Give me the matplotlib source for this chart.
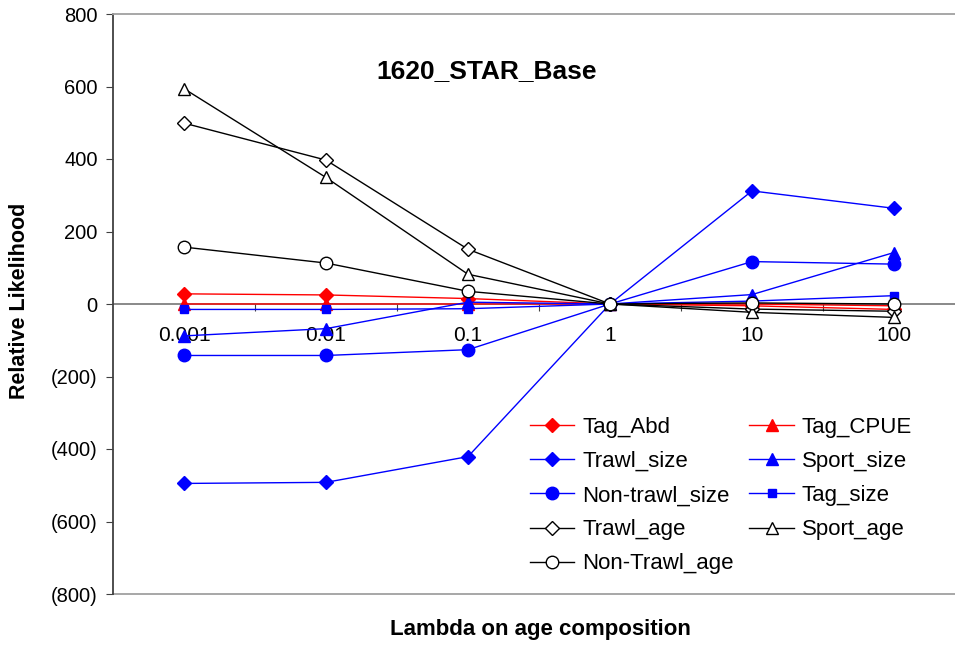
import numpy as np
import matplotlib.pyplot as plt
from matplotlib.ticker import FuncFormatter

plt.rcParams['font.family'] = ['Liberation Sans', 'DejaVu Sans']

lambdas = ['0.001', '0.01', '0.1', '1', '10', '100']

tag_abd = [28, 25, 15, 0, -5, -15]
tag_cpue = [0, 0, 0, 0, 0, -5]
trawl_size = [-495, -492, -421, 0, 312, 264]
sport_size = [-88, -68, 5, 0, 26, 142]
non_trawl_size = [-142, -142, -126, 0, 117, 110]
tag_size = [-15, -15, -13, 0, 8, 23]
trawl_age = [499, 397, 151, 0, -14, -20]
sport_age = [594, 349, 82, 0, -23, -37]
non_trawl_age = [157, 113, 35, 0, 3, 0]


def paren_fmt(v, pos):
    if v < 0:
        return f"({abs(v):.0f})"
    return f"{v:.0f}"


def main():
    fig = plt.figure(figsize=(9.55, 6.45), dpi=100)
    ax = fig.add_axes([113 / 955, 51 / 645, 852 / 955, 580 / 645])
    x = np.arange(len(lambdas))

    ax.axhline(0, color='#808080', lw=1.3, zorder=1)
    ax.axhline(-800, color='#a0a0a0', lw=1.3, zorder=1, clip_on=False)

    red = '#ff0000'
    blue = '#0000ff'
    ax.plot(x, tag_abd, color=red, lw=1, marker='D', ms=7, label='Tag_Abd')
    ax.plot(x, tag_cpue, color=red, lw=1, marker='^', ms=8, label='Tag_CPUE')
    ax.plot(x, trawl_size, color=blue, lw=1, marker='D', ms=7, label='Trawl_size')
    ax.plot(x, sport_size, color=blue, lw=1, marker='^', ms=8, label='Sport_size')
    ax.plot(x, non_trawl_size, color=blue, lw=1, marker='o', ms=9, label='Non-trawl_size')
    ax.plot(x, tag_size, color=blue, lw=1, marker='s', ms=6, label='Tag_size')
    ax.plot(x, trawl_age, color='black', lw=1, marker='D', ms=7, mfc='white', label='Trawl_age')
    ax.plot(x, sport_age, color='black', lw=1, marker='^', ms=9, mfc='white', label='Sport_age')
    ax.plot(x, non_trawl_age, color='black', lw=1, marker='o', ms=9, mfc='white', label='Non-Trawl_age')

    ax.set_xlim(-0.5, len(lambdas) - 0.5)
    ax.set_ylim(-800, 800)
    ax.set_yticks(np.arange(-800, 801, 200))
    ax.yaxis.set_major_formatter(FuncFormatter(paren_fmt))
    ax.tick_params(axis='y', direction='out', length=5, color='#404040', labelsize=14.5, pad=6)

    # x axis sits at zero, ticks between categories, labels centred
    ax.spines['bottom'].set_visible(False)
    ax.spines['right'].set_visible(False)
    ax.spines['top'].set_color('#a0a0a0')
    ax.spines['top'].set_linewidth(1.3)
    ax.spines['left'].set_color('#404040')
    ax.spines['left'].set_linewidth(1.3)
    ax.spines['bottom'].set_position(('data', 0))
    ax.set_xticks(np.arange(0.5, len(lambdas) - 0.5, 1))
    ax.set_xticklabels([])
    ax.set_xticks(x, minor=True)
    ax.set_xticklabels(lambdas, minor=True)
    ax.tick_params(axis='x', which='major', direction='out', length=5, color='#404040')
    ax.tick_params(axis='x', which='minor', length=0, labelsize=15, pad=16)

    ax.text(0.439, 0.902, '1620_STAR_Base', transform=ax.transAxes, ha='center',
            va='center', fontsize=19, fontweight='bold')

    ax.set_ylabel('Relative Likelihood', fontsize=15.5, fontweight='bold')
    ax.yaxis.set_label_coords(-0.097, 0.505)
    fig.text(540 / 955, 1 - 630 / 645, 'Lambda on age composition', ha='center',
             va='center', fontsize=16, fontweight='bold')

    handles, labels = ax.get_legend_handles_labels()
    order = [0, 2, 4, 6, 8, 1, 3, 5, 7]
    ax.legend([handles[i] for i in order], [labels[i] for i in order], ncol=2,
              frameon=False, fontsize=16, loc='upper left',
              bbox_to_anchor=(417 / 852, 1 - 403 / 580), borderpad=0,
              borderaxespad=0, handlelength=2.0, markerscale=1.0,
              columnspacing=0.7, labelspacing=0.59, handletextpad=0.35)

    fig.savefig('out.png', dpi=100)


if __name__ == "__main__":
    main()
